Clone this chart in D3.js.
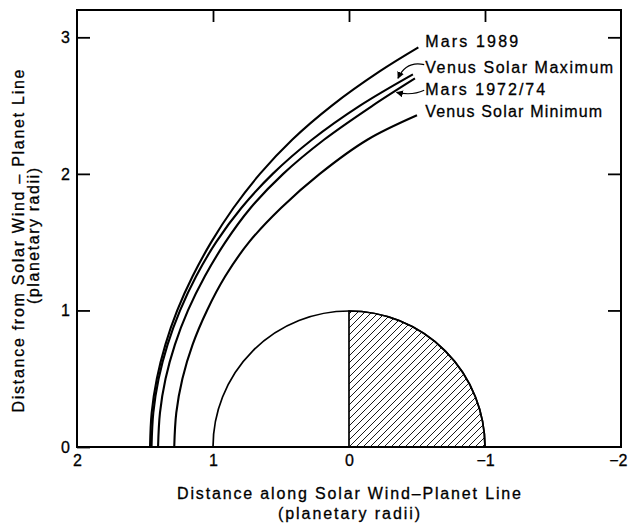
<!DOCTYPE html>
<html>
<head>
<meta charset="utf-8">
<script src="https://cdn.jsdelivr.net/npm/d3@7"></script>
<style>
  html, body { margin: 0; padding: 0; background: #fff; }
  svg { display: block; }
  text { font-family: "Liberation Sans", Arial, Helvetica, sans-serif; fill: #000; stroke: #000; stroke-width: 0.3; }
</style>
</head>
<body>
<svg id="chart" width="628" height="525"></svg>
<script>
// ---------------- data (planetary radii) ----------------
const seriesNames = ["Mars 1989", "Venus Solar Maximum", "Mars 1972/74", "Venus Solar Minimum"];

// each point: [distance along solar wind-planet line, distance from line]
const mars1989 = [[1.463,0],[1.451,0.25],[1.413,0.5],[1.35,0.75],[1.263,1.0],[1.15,1.25],[1.013,1.5],[0.85,1.75],[0.655,2.0],[0.418,2.25],[0.126,2.5],[-0.225,2.75],[-0.51,2.926]];
const venusSolarMax = [[1.452,0],[1.439,0.25],[1.4,0.5],[1.334,0.75],[1.242,1.0],[1.124,1.25],[0.977,1.5],[0.792,1.75],[0.561,2.0],[0.273,2.25],[-0.081,2.5],[-0.47,2.729]];
const mars1972 = [[1.404,0],[1.39,0.25],[1.349,0.5],[1.28,0.75],[1.184,1.0],[1.06,1.25],[0.909,1.5],[0.724,1.75],[0.484,2.0],[0.184,2.25],[-0.174,2.5],[-0.485,2.699]];
const venusSolarMin = [[1.285,0],[1.27,0.25],[1.225,0.5],[1.15,0.75],[1.044,1.0],[0.91,1.25],[0.735,1.5],[0.5,1.75],[0.215,2.0],[-0.135,2.25],[-0.5,2.429]];

const xTicks = [2, 1, 0, -1, -2];
const yTicks = [0, 1, 2, 3];
const planetRadius = 1;

// label positions (data units)
const labelX = -0.56;
const labelY = [2.929, 2.739, 2.578, 2.416];

// ---------------- layout ----------------
const svg = d3.select("#chart");
const x = d3.scaleLinear().domain([2, -2]).range([77, 621]);
const y = d3.scaleLinear().domain([0, 3.2]).range([447, 10]);

// hatch pattern
const defs = svg.append("defs");
const pat = defs.append("pattern")
  .attr("id", "hatch").attr("patternUnits", "userSpaceOnUse")
  .attr("width", 7).attr("height", 7);
pat.append("path")
  .attr("d", "M-1,1 l2,-2 M0,7 l7,-7 M6,8 l2,-2")
  .attr("stroke", "#000").attr("stroke-width", 0.9);

// planet
const cx = x(0), cy = y(0);
const rPx = Math.abs(x(planetRadius) - x(0));
const arc = d3.arc().innerRadius(0).outerRadius(rPx);
svg.append("path")
  .attr("transform", `translate(${cx},${cy})`)
  .attr("d", arc({startAngle: -Math.PI/2, endAngle: Math.PI/2}))
  .attr("fill", "none").attr("stroke", "#000").attr("stroke-width", 1.7);
svg.append("path")
  .attr("transform", `translate(${cx},${cy})`)
  .attr("d", arc({startAngle: 0, endAngle: Math.PI/2}))
  .attr("fill", "url(#hatch)").attr("stroke", "#000").attr("stroke-width", 1.7);

// boundary curves
const line = d3.line().x(d => x(d[0])).y(d => y(d[1])).curve(d3.curveCatmullRom.alpha(0.5));
[mars1989, venusSolarMax, mars1972, venusSolarMin].forEach(s => {
  svg.append("path").attr("d", line(s))
    .attr("fill", "none").attr("stroke", "#000").attr("stroke-width", 2.1);
});

// frame
svg.append("rect")
  .attr("x", x(2)).attr("y", y(3.2))
  .attr("width", x(-2) - x(2)).attr("height", y(0) - y(3.2))
  .attr("fill", "none").attr("stroke", "#000").attr("stroke-width", 2);

// axes
const fmt = d => d < 0 ? "\u2212" + Math.abs(d) : String(d);
const gL = svg.append("g").attr("transform", `translate(${x(2)},0)`)
  .call(d3.axisLeft(y).tickValues(yTicks).tickSize(-13).tickPadding(7).tickFormat(fmt));
const gR = svg.append("g").attr("transform", `translate(${x(-2)},0)`)
  .call(d3.axisRight(y).tickValues([1,2,3]).tickSize(-13).tickFormat(""));
const gT = svg.append("g").attr("transform", `translate(0,${y(3.2)})`)
  .call(d3.axisTop(x).tickValues([1,0,-1]).tickSize(-12).tickFormat(""));
const gB = svg.append("g").attr("transform", `translate(0,${y(0)})`)
  .call(d3.axisBottom(x).tickValues(xTicks).tickSize(0).tickPadding(8).tickFormat(fmt));
[gL, gR, gT, gB].forEach(g => {
  g.select(".domain").remove();
  g.selectAll("line").attr("stroke", "#000").attr("stroke-width", 1.8);
  g.selectAll("text").attr("font-size", 16).attr("font-family", "Liberation Sans, Arial, sans-serif").attr("fill", "#000");
});
// last x label sits against the right edge
gB.selectAll(".tick").filter(d => d === -2).select("text")
  .attr("text-anchor", "end").attr("x", 6);

// axis titles
svg.append("text").attr("x", x(0)).attr("y", 499).attr("text-anchor", "middle")
  .attr("font-size", 16).attr("textLength", 344).attr("lengthAdjust", "spacing")
  .text("Distance along Solar Wind\u2013Planet Line");
svg.append("text").attr("x", x(0)).attr("y", 519).attr("text-anchor", "middle")
  .attr("font-size", 16).attr("textLength", 142).attr("lengthAdjust", "spacing")
  .text("(planetary radii)");
svg.append("text").attr("transform", `translate(24,241) rotate(-90)`).attr("text-anchor", "middle")
  .attr("font-size", 16).attr("textLength", 343).attr("lengthAdjust", "spacing")
  .text("Distance from Solar Wind \u2013 Planet Line");
svg.append("text").attr("transform", `translate(39,236) rotate(-90)`).attr("text-anchor", "middle")
  .attr("font-size", 16).attr("textLength", 136).attr("lengthAdjust", "spacing")
  .text("(planetary radii)");

// series labels
const labelWidths = [93, 188, 120, 177];
seriesNames.forEach((n, i) => {
  svg.append("text").attr("x", x(labelX)).attr("y", y(labelY[i]))
    .attr("font-size", 16).attr("textLength", labelWidths[i]).attr("lengthAdjust", "spacing")
    .text(n);
});

// arrows
defs.append("marker").attr("id", "ah").attr("viewBox", "0 0 10 10")
  .attr("refX", 9).attr("refY", 5).attr("markerWidth", 7).attr("markerHeight", 7)
  .attr("markerUnits", "userSpaceOnUse").attr("orient", "auto")
  .append("path").attr("d", "M0,0 L10,5 L0,10 z").attr("fill", "#000");
const arrows = [
  {from: [-0.553, 2.80], ctrl: [-0.42, 2.83], to: [-0.36, 2.70]},
  {from: [-0.553, 2.612], ctrl: [-0.46, 2.57], to: [-0.35, 2.597]}
];
arrows.forEach(a => {
  const p = d3.path();
  p.moveTo(x(a.from[0]), y(a.from[1]));
  p.quadraticCurveTo(x(a.ctrl[0]), y(a.ctrl[1]), x(a.to[0]), y(a.to[1]));
  svg.append("path").attr("d", p.toString()).attr("fill", "none")
    .attr("stroke", "#000").attr("stroke-width", 1.1).attr("marker-end", "url(#ah)");
});
</script>
</body>
</html>
